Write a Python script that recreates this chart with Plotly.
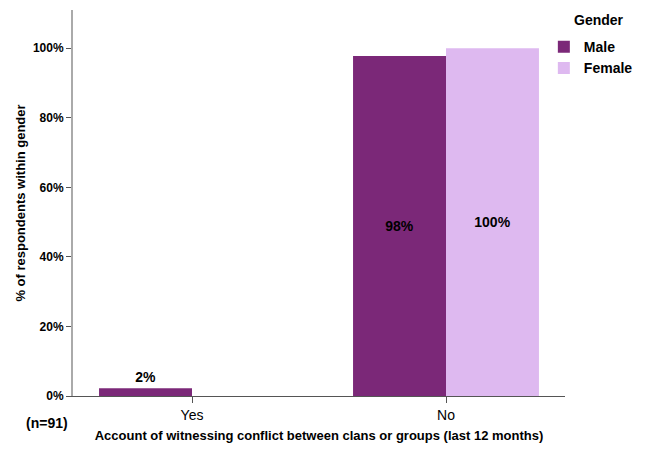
import plotly.graph_objects as go

categories = ["Yes", "No"]
male_pct = [2.2, 97.8]
female_pct = [0.0, 100.0]
male_labels = ["2%", "98%"]
female_labels = ["", "100%"]
y_ticks = [0, 20, 40, 60, 80, 100]
y_tick_labels = ["0%", "20%", "40%", "60%", "80%", "100%"]

MALE = "#7B2878"
FEMALE = "#DEB9F0"
FONT = "Liberation Sans, Arial, sans-serif"

fig = go.Figure()
fig.add_trace(go.Bar(
    x=categories, y=male_pct, name="<b>Male</b>", marker=dict(color=MALE, line=dict(width=0)),
    text=["<b>%s</b>" % t for t in male_labels], textposition=["outside", "inside"],
    insidetextanchor="middle", cliponaxis=False,
    constraintext="none", textfont=dict(color="black", size=14, family=FONT),
))
fig.add_trace(go.Bar(
    x=categories, y=female_pct, name="<b>Female</b>", marker=dict(color=FEMALE, line=dict(width=0)),
    text=["<b>%s</b>" % t if t else "" for t in female_labels], textposition="inside",
    insidetextanchor="middle", cliponaxis=False,
    constraintext="none", textfont=dict(color="black", size=14, family=FONT),
))

fig.update_layout(
    width=648, height=450,
    margin=dict(l=73, r=83, t=10, b=54, autoexpand=False),
    barmode="group", bargap=0.268, bargroupgap=0,
    plot_bgcolor="white", paper_bgcolor="white",
    font=dict(family=FONT, color="black", size=12),
    showlegend=True,
    legend=dict(
        x=0.957, xanchor="left", y=0.945, yanchor="top",
        font=dict(size=14, family=FONT), tracegroupgap=0,
        itemwidth=30, bgcolor="rgba(0,0,0,0)",
    ),
    xaxis=dict(
        type="category", range=[-0.4685, 1.4685],
        showline=True, linecolor="#555555", linewidth=1,
        ticks="outside", ticklen=6, tickcolor="#555555",
        tickfont=dict(size=14, family=FONT),
        title=dict(text="<b>Account of witnessing conflict between clans or groups (last 12 months)</b>",
                   font=dict(size=13, family=FONT), standoff=9),
        showgrid=False, zeroline=False, automargin=False,
    ),
    yaxis=dict(
        range=[0, 111], tickvals=y_ticks, ticktext=["<b>%s</b>" % t for t in y_tick_labels],
        showline=True, linecolor="#aaaaaa", linewidth=2,
        ticks="outside", ticklen=5, tickcolor="#555555",
        tickfont=dict(size=12, family=FONT),
        title=dict(text="<b>% of respondents within gender</b>", font=dict(size=13, family=FONT), standoff=4),
        showgrid=False, zeroline=False, automargin=False,
    ),
)

fig.add_annotation(
    text="<b>Gender</b>", xref="paper", yref="paper", x=(572 - 73) / 492, y=(396 - 20) / 386,
    xanchor="left", yanchor="middle", showarrow=False,
    font=dict(size=14, family=FONT, color="black"),
)
fig.add_annotation(
    text="<b>(n=91)</b>", xref="paper", yref="paper", x=-0.053, y=-0.07,
    xanchor="center", yanchor="middle", showarrow=False,
    font=dict(size=14, family=FONT, color="black"),
)

fig.write_html("out.html", config={"displayModeBar": False},
               post_script="document.body.style.margin='0px';document.body.style.padding='0px';")
